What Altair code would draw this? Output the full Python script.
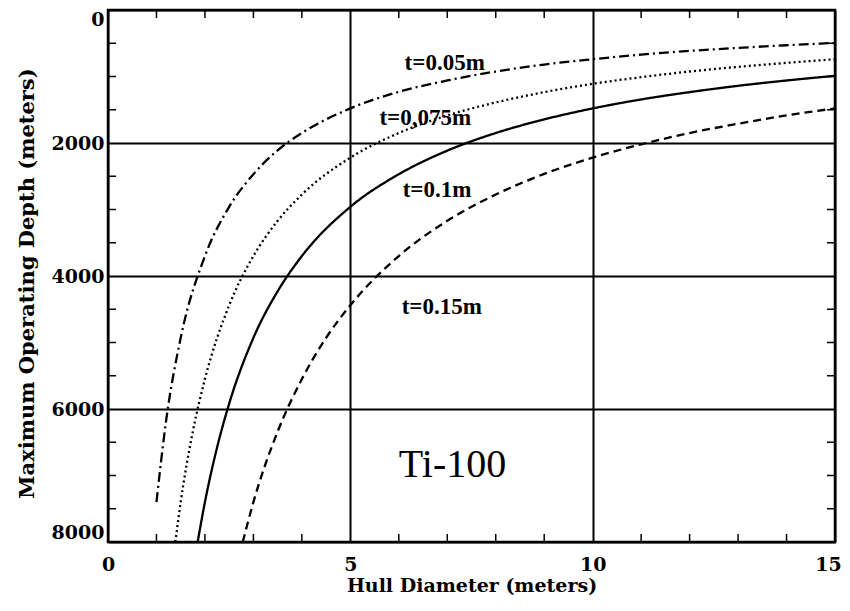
import altair as alt
import pandas as pd

# Curves: hull diameter (m) -> maximum operating depth (m)
d_005 = [1.0, 1.2, 1.5, 2.0, 2.5, 3.0, 3.5, 4.0, 5.0, 6.0, 7.0, 8.0, 9.0, 10.0, 11.0, 12.0, 13.0, 14.0, 15.0]
z_005 = [7400, 6170, 4930, 3700, 2960, 2470, 2110, 1850, 1480, 1230, 1060, 925, 820, 740, 670, 615, 570, 530, 495]

d_0075 = [1.39, 1.5, 1.75, 2.0, 2.5, 3.0, 3.5, 4.0, 5.0, 6.0, 7.0, 8.0, 9.0, 10.0, 11.0, 12.0, 13.0, 14.0, 15.0]
z_0075 = [8000, 7400, 6340, 5550, 4440, 3700, 3170, 2775, 2220, 1850, 1585, 1390, 1235, 1110, 1010, 925, 855, 795, 740]

d_01 = [1.85, 2.0, 2.25, 2.5, 3.0, 3.5, 4.0, 5.0, 6.0, 7.0, 8.0, 9.0, 10.0, 11.0, 12.0, 13.0, 14.0, 15.0]
z_01 = [8000, 7400, 6580, 5920, 4930, 4230, 3700, 2960, 2470, 2115, 1850, 1645, 1480, 1345, 1235, 1140, 1060, 990]

d_015 = [2.78, 3.0, 3.5, 4.0, 4.5, 5.0, 6.0, 7.0, 8.0, 9.0, 10.0, 11.0, 12.0, 13.0, 14.0, 15.0]
z_015 = [8000, 7400, 6340, 5550, 4930, 4440, 3700, 3170, 2775, 2465, 2220, 2020, 1850, 1710, 1585, 1480]

series = ["t=0.05m", "t=0,075m", "t=0.1m", "t=0.15m"]

# Curve labels
label_text = ["t=0.05m", "t=0,075m", "t=0.1m", "t=0.15m"]
label_x = [6.12, 5.6, 6.08, 6.06]
label_y = [800, 1620, 2710, 4460]

x_ticks = [0, 5, 10, 15]
y_ticks = [0, 2000, 4000, 6000, 8000]
x_minor = [1, 2, 3, 4, 6, 7, 8, 9, 11, 12, 13, 14]
y_minor = [500, 1000, 1500, 2500, 3000, 3500, 4500, 5000, 5500, 6500, 7000, 7500]

W, H = 727, 532

rows = []
for name, ds, zs in zip(series, [d_005, d_0075, d_01, d_015], [z_005, z_0075, z_01, z_015]):
    for d, z in zip(ds, zs):
        rows.append({"D": d, "depth": z, "t": name})
curves = pd.DataFrame(rows)

labels = pd.DataFrame({"x": label_x, "y": label_y, "text": label_text})
ti = pd.DataFrame({"x": [6.0], "y": [6840], "text": ["Ti-100"]})
xm = pd.DataFrame({"v": x_minor})
ym = pd.DataFrame({"v": y_minor})

xscale = alt.Scale(domain=[0, 15], nice=False, zero=False)
yscale = alt.Scale(domain=[0, 8000], reverse=True, nice=False, zero=False)

FONT_AX = "DejaVu Serif"

lines = alt.Chart(curves).mark_line(color="black", strokeWidth=2.3, interpolate="monotone").encode(
    x=alt.X("D:Q", scale=xscale, title="Hull Diameter (meters)",
            axis=alt.Axis(values=x_ticks, grid=True, gridColor="black", gridWidth=2, gridOpacity=1,
                          ticks=False, domain=False, labelFlush=False, labelPadding=13,
                          labelOffset={"expr": "datum.value == 15 ? -7 : 0"},
                          labelFont=FONT_AX, labelFontSize=19, labelFontWeight="bold", labelColor="black",
                          titleFont=FONT_AX, titleFontSize=19, titleFontWeight="bold", titleColor="black",
                          titlePadding=2)),
    y=alt.Y("depth:Q", scale=yscale, title="Maximum Operating Depth (meters)",
            axis=alt.Axis(values=y_ticks, grid=True, gridColor="black", gridWidth=2, gridOpacity=1,
                          ticks=False, domain=False, labelFlush=True, labelPadding=4, format="d",
                          labelFont=FONT_AX, labelFontSize=19, labelFontWeight="bold", labelColor="black",
                          titleFont=FONT_AX, titleFontSize=21, titleFontWeight="bold", titleColor="black",
                          titlePadding=14, titleY=273)),
    strokeDash=alt.StrokeDash("t:N", scale=alt.Scale(domain=series,
                              range=[[10, 4, 2, 4], [2, 3], [1, 0], [8, 5]]), legend=None),
    detail="t:N",
)

text = alt.Chart(labels).mark_text(align="left", baseline="middle", font="Liberation Serif",
                                   fontSize=23, fontWeight="bold", color="black").encode(
    x=alt.X("x:Q", scale=xscale), y=alt.Y("y:Q", scale=yscale), text="text:N")

titext = alt.Chart(ti).mark_text(align="left", baseline="middle", font="Liberation Serif",
                                 fontSize=40, color="black").encode(
    x=alt.X("x:Q", scale=xscale), y=alt.Y("y:Q", scale=yscale), text="text:N")

tick_len = 8
xb = alt.Chart(xm).mark_rule(color="black", strokeWidth=1.5).encode(
    x=alt.X("v:Q", scale=xscale), y=alt.value(H - tick_len), y2=alt.value(H))
xt = alt.Chart(xm).mark_rule(color="black", strokeWidth=1.5).encode(
    x=alt.X("v:Q", scale=xscale), y=alt.value(0), y2=alt.value(tick_len))
yl = alt.Chart(ym).mark_rule(color="black", strokeWidth=1.5).encode(
    y=alt.Y("v:Q", scale=yscale), x=alt.value(0), x2=alt.value(tick_len))
yr = alt.Chart(ym).mark_rule(color="black", strokeWidth=1.5).encode(
    y=alt.Y("v:Q", scale=yscale), x=alt.value(W - tick_len), x2=alt.value(W))

chart = alt.layer(lines, text, titext, xb, xt, yl, yr).properties(
    width=W, height=H,
    autosize=alt.AutoSizeParams(type="none"),
    padding={"left": 100, "top": 2, "right": 7, "bottom": 58},
    background="white",
).configure_view(stroke="black", strokeWidth=2.5)

chart.save("out.html", embed_options={"renderer": "svg", "actions": False})
